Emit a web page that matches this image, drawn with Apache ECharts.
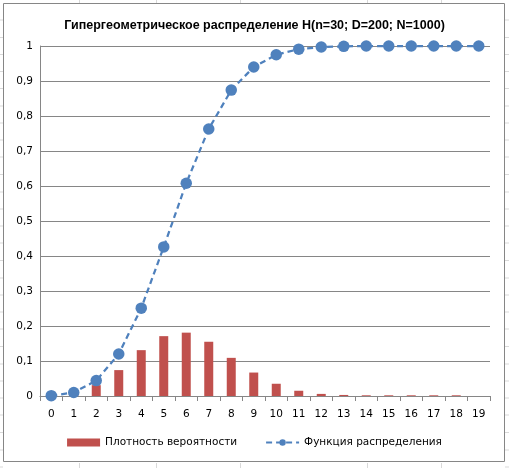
<!DOCTYPE html>
<html><head><meta charset="utf-8">
<script src="https://cdn.jsdelivr.net/npm/echarts@6/dist/echarts.min.js"></script>
<style>html,body{margin:0;padding:0;background:#fff}#c{width:509px;height:468px}</style>
</head><body><div id="c"></div>
<script>
var categories = ['0','1','2','3','4','5','6','7','8','9','10','11','12','13','14','15','16','17','18','19'];
var density = [0.001, 0.009, 0.031, 0.074, 0.131, 0.171, 0.181, 0.155, 0.109, 0.067, 0.035, 0.015, 0.006, 0.003, 0.002, 0.002, 0.002, 0.002, 0.002, 0];
var cdf = [0.001, 0.01, 0.044, 0.12, 0.251, 0.426, 0.608, 0.763, 0.874, 0.94, 0.975, 0.991, 0.997, 0.999, 1, 1, 1, 1, 1, 1];
var titleText = 'Гипергеометрическое распределение H(n=30; D=200; N=1000)';
var seriesNames = ['Плотность вероятности', 'Функция распределения'];

var chart = echarts.init(document.getElementById('c'), null, {renderer:'canvas'});
var deco = [];
var sheetH = [20, 37.5, 54.5, 71.5, 88.5, 106, 123, 140, 157, 174.5, 192, 209, 226, 243, 260.5, 278, 295, 312, 329, 346.5, 364, 381, 398, 415, 432.5, 450, 467];
sheetH.forEach(function(y){
  deco.push({type:'line', shape:{x1:0,y1:y,x2:3,y2:y}, style:{stroke:'#d9d9d9',lineWidth:1}, silent:true});
  deco.push({type:'line', shape:{x1:505,y1:y,x2:509,y2:y}, style:{stroke:'#d9d9d9',lineWidth:1}, silent:true});
});
[79.5,156.5,240.5,367.5,441.5].forEach(function(x){
  deco.push({type:'line', shape:{x1:x,y1:0,x2:x,y2:3}, style:{stroke:'#d9d9d9',lineWidth:1}, silent:true});
  deco.push({type:'line', shape:{x1:x,y1:463,x2:x,y2:468}, style:{stroke:'#d9d9d9',lineWidth:1}, silent:true});
});
deco.push({type:'rect', shape:{x:3.5,y:3.5,width:501,height:458}, style:{fill:'none',stroke:'#868686',lineWidth:1}, silent:true, z:-1});

var labelFont = 'DejaVu Sans';
chart.setOption({
  animation:false,
  backgroundColor:'#fff',
  graphic: deco,
  title:{text:titleText, left:'center', top:14, textStyle:{fontFamily:'Liberation Sans', fontSize:12.5, fontWeight:'bold', color:'#000'}},
  grid:{left:40, right:19, top:46, bottom:72, containLabel:false},
  legend:{
    bottom:15, left:'center', itemGap:28, itemWidth:33, itemHeight:8,
    textStyle:{fontFamily:labelFont, fontSize:10.5, color:'#000'},
    data:[{name:seriesNames[0], icon:'rect'}, {name:seriesNames[1]}]
  },
  xAxis:{
    type:'category', data:categories, boundaryGap:true,
    axisLine:{lineStyle:{color:'#868686', width:1}},
    axisTick:{show:true, length:5, alignWithLabel:false, lineStyle:{color:'#868686'}},
    axisLabel:{fontFamily:labelFont, fontSize:10.5, color:'#000', margin:13, interval:0}
  },
  yAxis:{
    type:'value', min:0, max:1, interval:0.1,
    axisLine:{show:true, lineStyle:{color:'#868686', width:1}},
    axisTick:{show:false},
    splitLine:{lineStyle:{color:'#868686', width:1}},
    axisLabel:{fontFamily:labelFont, fontSize:10.5, color:'#000', margin:7,
      formatter:function(v){return (Math.round(v*10)/10).toString().replace('.', ',');}}
  },
  series:[
    {name:seriesNames[0], type:'bar', data:density, barWidth:9, itemStyle:{color:'#C0504D'}},
    {name:seriesNames[1], type:'line', data:cdf, symbol:'circle', symbolSize:11.5,
      itemStyle:{color:'#4F81BD'}, lineStyle:{color:'#4F81BD', width:2.25, type:[6,4]}, z:3}
  ]
});
</script></body></html>
